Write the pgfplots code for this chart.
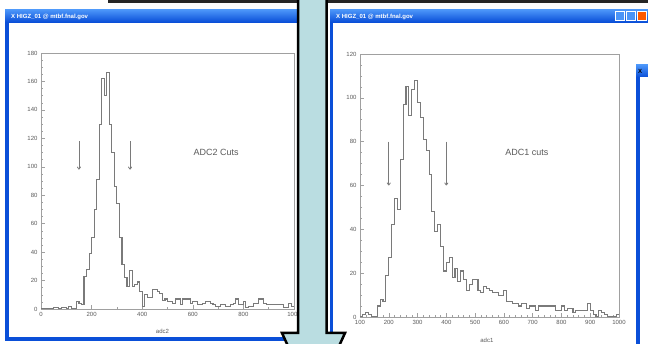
\documentclass[border=0pt]{standalone}
\usepackage{fontspec}
\setmainfont{Liberation Sans}
\usepackage{pgfplots}
\pgfplotsset{compat=1.18}
\usetikzlibrary{arrows.meta}
\definecolor{xpblue}{HTML}{0A4FD8}
\definecolor{xplight}{HTML}{4A94F8}
\definecolor{arrowfill}{HTML}{BADDE1}
\definecolor{histgray}{HTML}{7A7A7A}
\definecolor{axgray}{HTML}{A0A0A0}
\definecolor{txtgray}{HTML}{5A5A5A}
\pgfplotsset{
 paw/.style={
  scale only axis,
  axis line style={axgray, line width=0.9pt},
  tick align=inside,
  xtick pos=bottom, ytick pos=left,
  major tick length=4pt, minor tick length=2pt,
  every tick/.style={axgray, line width=0.5pt},
  tick label style={font=\fontsize{6}{7}\selectfont, text=txtgray},
  /pgf/number format/assume math mode=true,
  /pgf/number format/1000 sep={},
  axis background/.style={fill=white},
 }
}
\begin{document}
\begin{tikzpicture}[x=1pt,y=1pt]
\useasboundingbox (0,0) rectangle (648,344);
\clip (0,0) rectangle (648,344);
\fill[white] (0,0) rectangle (648,344);
\fill[black!85] (108,340.5) rectangle (648,344);
% left window
\fill[xpblue] (5,3) rectangle (305,334);
\shade[top color=xplight, bottom color=xpblue] (5,322) rectangle (305,334);
\fill[white] (9,7) rectangle (300,321);
\node[anchor=west, text=white, font=\fontsize{6}{7}\selectfont\bfseries, inner sep=0] at (11,327.5) {X HIGZ\_01 @ mtbf.fnal.gov};
% right window
\fill[xpblue] (330,-5) rectangle (660,334);
\shade[top color=xplight, bottom color=xpblue] (330,322) rectangle (660,334);
\fill[white] (333,-5) rectangle (660,321);
\node[anchor=west, text=white, font=\fontsize{6}{7}\selectfont\bfseries, inner sep=0] at (336,327.5) {X HIGZ\_01 @ mtbf.fnal.gov};
\filldraw[fill=xplight, draw=white, line width=0.6pt] (615,323.5) rectangle (624,332.5);
\filldraw[fill=xplight, draw=white, line width=0.6pt] (626,323.5) rectangle (635,332.5);
\filldraw[fill=orange!70!red, draw=white, line width=0.6pt] (637,323.5) rectangle (646,332.5);
% third window
\fill[xpblue] (636,-5) rectangle (660,279);
\shade[top color=xplight, bottom color=xpblue] (636,267) rectangle (660,279);
\fill[white] (640,-5) rectangle (660,267);
\node[anchor=west, text=black, font=\fontsize{6}{7}\selectfont\bfseries, inner sep=0] at (638,273) {X};

\begin{axis}[paw, at={(41pt,35pt)}, anchor=south west, width=253pt, height=256pt,
  xmin=0, xmax=1000, ymin=0, ymax=180,
  xtick={0,200,...,1000}, minor x tick num=1,
  ytick={0,20,...,180}, minor y tick num=3,
  xlabel={adc2}, xlabel style={font=\fontsize{6}{7}\selectfont, text=txtgray, at={(axis description cs:0.48,0)}, anchor=center, yshift=-22pt}]
\addplot[const plot, histgray, line width=1.1pt] coordinates {(0,0)(10,0)(20,0)(30,0)(40,0)(50,1)(60,1)(70,0)(80,1)(90,1)(100,0)(110,2)(120,0)(130,0)(140,5)(150,4)(160,3)(170,23)(180,28)(190,39)(200,50)(210,70)(220,91)(230,130)(240,162)(250,150)(260,166)(270,130)(280,110)(290,86)(300,74)(310,50)(320,31)(330,22)(340,16)(350,27)(360,16)(370,17)(380,19)(390,12)(400,2)(410,10)(420,8)(430,8)(440,14)(450,14)(460,12)(470,11)(480,6)(490,7)(500,5)(510,5)(520,4)(530,7)(540,7)(550,3)(560,7)(570,7)(580,7)(590,4)(600,5)(610,5)(620,3)(630,3)(640,4)(650,5)(660,5)(670,4)(680,3)(690,2)(700,2)(710,3)(720,3)(730,2)(740,2)(750,3)(760,4)(770,7)(780,3)(790,3)(800,5)(810,1)(820,2)(830,2)(840,4)(850,4)(860,7)(870,7)(880,4)(890,3)(900,3)(910,3)(920,3)(930,3)(940,3)(950,3)(960,1)(970,1)(980,4)(990,2)(1000,2)};
\draw[-{To[length=3pt,width=4pt]}, histgray, line width=0.8pt] (axis cs:150,118) -- (axis cs:150,98);
\draw[-{To[length=3pt,width=4pt]}, histgray, line width=0.8pt] (axis cs:352,118) -- (axis cs:352,98);
\node[font=\fontsize{9}{10}\selectfont, text=txtgray] at (axis cs:692,110) {ADC2 Cuts};
\end{axis}

\begin{axis}[paw, at={(360pt,27pt)}, anchor=south west, width=259pt, height=263pt,
  xmin=100, xmax=1000, ymin=0, ymax=120,
  xtick={100,200,...,1000}, minor x tick num=4,
  ytick={0,20,...,120}, minor y tick num=3,
  xlabel={adc1}, xlabel style={font=\fontsize{6}{7}\selectfont, text=txtgray, at={(axis description cs:0.49,0)}, anchor=center, yshift=-23pt}]
\addplot[const plot, histgray, line width=1.1pt] coordinates {(100,0)(110,1)(120,2)(130,1)(140,0)(150,0)(160,5)(170,8)(180,7)(190,19)(200,27)(210,42)(220,54)(230,49)(240,72)(250,97)(260,105)(270,92)(280,104)(290,108)(300,98)(310,91)(320,81)(330,76)(340,65)(350,48)(360,39)(370,42)(380,32)(390,21)(400,25)(410,27)(420,18)(430,22)(440,16)(450,21)(460,17)(470,12)(480,15)(490,17)(500,17)(510,12)(520,11)(530,14)(540,13)(550,12)(560,11)(570,11)(580,10)(590,10)(600,12)(610,7)(620,7)(630,6)(640,6)(650,5)(660,6)(670,6)(680,4)(690,5)(700,5)(710,3)(720,5)(730,5)(740,5)(750,5)(760,5)(770,5)(780,3)(790,3)(800,5)(810,3)(820,4)(830,4)(840,2)(850,3)(860,3)(870,3)(880,3)(890,6)(900,3)(910,1)(920,0)(930,3)(940,2)(950,1)(960,0)(970,0)(980,0)(990,1)(1000,1)};
\draw[-{To[length=3pt,width=4pt]}, histgray, line width=0.8pt] (axis cs:200,80) -- (axis cs:200,60);
\draw[-{To[length=3pt,width=4pt]}, histgray, line width=0.8pt] (axis cs:400,80) -- (axis cs:400,60);
\node[font=\fontsize{9}{10}\selectfont, text=txtgray] at (axis cs:680,75) {ADC1 cuts};
\end{axis}

% big arrow
\filldraw[fill=arrowfill, draw=black, line width=2.5pt, line join=miter]
  (298,350) -- (298,11) -- (282,11) -- (313.5,-58) -- (345,11) -- (326.5,11) -- (326.5,350) -- cycle;
\end{tikzpicture}
\end{document}
